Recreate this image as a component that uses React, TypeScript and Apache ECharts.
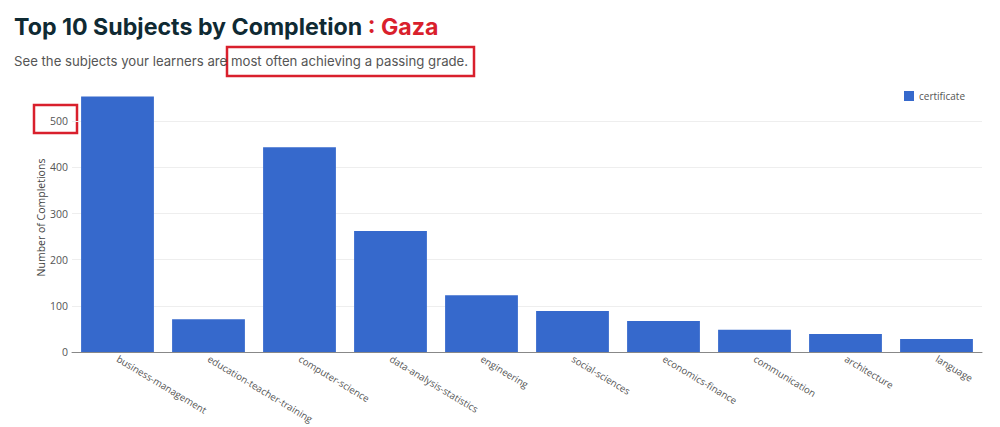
import React, { useEffect, useRef } from "react";
import * as echarts from "echarts";

const categories = [
  "business-management",
  "education-teacher-training",
  "computer-science",
  "data-analysis-statistics",
  "engineering",
  "social-sciences",
  "economics-finance",
  "communication",
  "architecture",
  "language",
];
const certificate = [554, 71, 444, 262, 123, 89, 67, 48, 39, 28];
const yTicks = [0, 100, 200, 300, 400, 500];

export default function App() {
  const ref = useRef<HTMLDivElement>(null);
  useEffect(() => {
    if (!ref.current) return;
    const chart = echarts.init(ref.current, undefined, { renderer: "svg" });
    chart.setOption({
      animation: false,
      backgroundColor: "#ffffff",
      title: [
        {
          left: 14,
          top: 15,
          padding: 0,
          text: "{a|Top 10 Subjects by Completion}{b| : Gaza}",
          textStyle: {
            rich: {
              a: { fontFamily: "Inter", fontWeight: "bold", fontSize: 23.2, color: "#0f2a33" },
              b: { fontFamily: "Inter", fontWeight: "bold", fontSize: 23.2, color: "#d9202c" },
            },
          },
        },
        {
          left: 14,
          top: 54,
          padding: 0,
          text: "See the subjects your learners are most often achieving a passing grade.",
          textStyle: { fontFamily: "Inter", fontWeight: "normal", fontSize: 13.2, color: "#555555" },
        },
      ],
      legend: {
        right: 30,
        top: 86,
        itemWidth: 10,
        itemHeight: 10,
        icon: "rect",
        textStyle: { fontFamily: "Open Sans", fontSize: 10, color: "#555" },
        data: ["certificate"],
      },
      grid: { left: 72, right: 18, top: 83, bottom: 75, outerBoundsMode: "none" },
      xAxis: {
        type: "category",
        data: categories,
        axisLine: { lineStyle: { color: "#888" } },
        axisTick: { show: false },
        axisLabel: {
          rotate: -31,
          interval: 0,
          fontFamily: "Open Sans",
          fontSize: 9.7,
          color: "#555",
          margin: 6,
        },
      },
      yAxis: {
        type: "value",
        min: 0,
        max: 583,
        interval: 100,
        name: "Number of Completions",
        nameLocation: "middle",
        nameGap: 26,
        nameMoveOverlap: false,
        nameTextStyle: { fontFamily: "Open Sans", fontSize: 10.5, color: "#444" },
        axisLine: { show: false },
        axisTick: { show: false },
        splitLine: { showMaxLine: false, lineStyle: { color: "#eeeeee" } },
        axisLabel: {
          fontFamily: "Open Sans",
          fontSize: 10.5,
          color: "#555",
          margin: 4,
          showMaxLabel: false,
          formatter: (v: number) => (yTicks.includes(v) ? String(v) : ""),
        },
      },
      series: [
        {
          name: "certificate",
          type: "bar",
          data: certificate,
          barCategoryGap: "20%",
          itemStyle: { color: "#3669cc" },
        },
      ],
      graphic: [
        {
          type: "rect",
          shape: { x: 227, y: 47, width: 247, height: 29 },
          style: { fill: "none", stroke: "#d9202c", lineWidth: 2.5 },
        },
        {
          type: "rect",
          shape: { x: 34, y: 105, width: 43, height: 28 },
          style: { fill: "none", stroke: "#d9202c", lineWidth: 2.5 },
        },
      ],
    });
    return () => chart.dispose();
  }, []);
  return <div ref={ref} style={{ width: 1000, height: 427, position: "absolute", left: 0, top: 0 }} />;
}
